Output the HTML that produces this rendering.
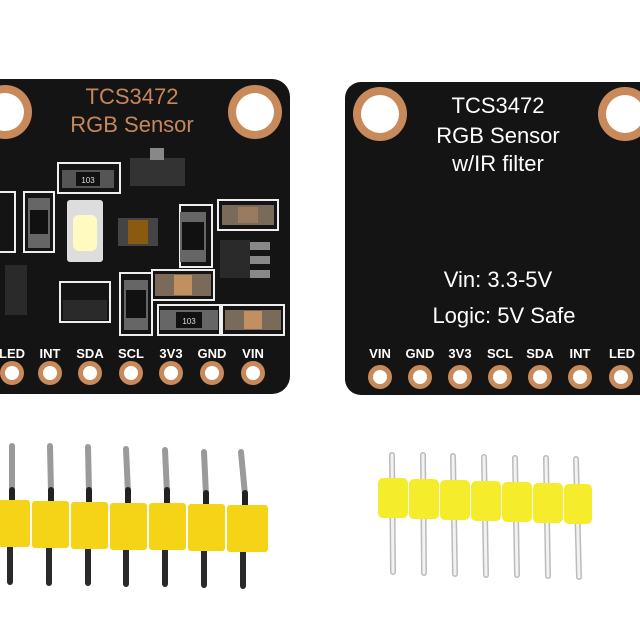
<!DOCTYPE html>
<html><head><style>
html,body{margin:0;padding:0;background:#fff;width:640px;height:640px;overflow:hidden}
svg{display:block}
text{font-family:"Liberation Sans",sans-serif}
.b{font-weight:bold}
</style></head><body>
<svg width="640" height="640" viewBox="0 0 640 640">
<rect width="640" height="640" fill="#fff"/>
<!-- Left board -->
<rect x="-20" y="79" width="310" height="315" rx="18" fill="#141414"/>
<circle cx="5" cy="112" r="27" fill="#c88a5a"/><circle cx="5" cy="112" r="19" fill="#fff"/>
<circle cx="255" cy="112" r="27" fill="#c88a5a"/><circle cx="255" cy="112" r="19" fill="#fff"/>
<text x="132" y="104" font-size="22" fill="#c8875a" text-anchor="middle">TCS3472</text>
<text x="132" y="132" font-size="22" fill="#c8875a" text-anchor="middle">RGB Sensor</text>
<g fill="none" stroke="#eee" stroke-width="2">
<rect x="58" y="163" width="62" height="30"/>
<rect x="24" y="192" width="30" height="60"/>
<rect x="-5" y="192" width="20" height="60"/>
<rect x="180" y="205" width="32" height="62"/>
<rect x="218" y="200" width="60" height="30"/>
<rect x="120" y="273" width="32" height="62"/>
<rect x="152" y="270" width="62" height="30"/>
<rect x="158" y="305" width="62" height="30"/>
<rect x="222" y="305" width="62" height="30"/>
<rect x="60" y="282" width="50" height="40"/>
</g>
<rect x="62" y="170" width="52" height="18" fill="#555"/><rect x="76" y="172" width="24" height="14" fill="#111"/>
<text x="88" y="183" font-size="8" fill="#ddd" text-anchor="middle">103</text>
<rect x="28" y="198" width="22" height="50" fill="#666"/><rect x="30" y="210" width="18" height="24" fill="#111"/>
<rect x="180" y="212" width="26" height="50" fill="#666"/><rect x="182" y="222" width="22" height="28" fill="#111"/>
<rect x="222" y="205" width="52" height="20" fill="#7a6a5a"/><rect x="238" y="207" width="20" height="16" fill="#9a7a60"/>
<rect x="130" y="158" width="55" height="28" fill="#333"/><rect x="150" y="148" width="14" height="12" fill="#888"/>
<rect x="67" y="200" width="36" height="62" rx="3" fill="#ddd"/><rect x="73" y="215" width="24" height="36" rx="6" fill="#fffbc0"/>
<rect x="118" y="218" width="40" height="28" fill="#444"/><rect x="128" y="220" width="20" height="24" fill="#8a5a10"/>
<rect x="220" y="240" width="30" height="38" fill="#2a2a2a"/><rect x="250" y="242" width="20" height="8" fill="#888"/><rect x="250" y="256" width="20" height="8" fill="#888"/><rect x="250" y="270" width="20" height="8" fill="#888"/>
<rect x="124" y="280" width="24" height="50" fill="#666"/><rect x="126" y="290" width="20" height="28" fill="#111"/>
<rect x="155" y="274" width="56" height="22" fill="#7a6a5a"/><rect x="174" y="275" width="18" height="20" fill="#c09060"/>
<rect x="160" y="310" width="58" height="20" fill="#666"/><rect x="176" y="312" width="26" height="16" fill="#111"/>
<text x="189" y="324" font-size="8" fill="#ddd" text-anchor="middle">103</text>
<rect x="225" y="310" width="56" height="20" fill="#7a6a5a"/><rect x="244" y="311" width="18" height="18" fill="#c09060"/>
<rect x="63" y="300" width="44" height="20" fill="#2a2a2a"/>
<rect x="5" y="265" width="22" height="50" fill="#2a2a2a"/>
<g font-size="13" fill="#fff" text-anchor="middle" class="b">
<text x="12" y="358">LED</text><text x="50" y="358">INT</text><text x="90" y="358">SDA</text><text x="131" y="358">SCL</text><text x="171" y="358">3V3</text><text x="212" y="358">GND</text><text x="253" y="358">VIN</text>
</g>
<g fill="#c88a5a">
<circle cx="12" cy="373" r="12"/><circle cx="50" cy="373" r="12"/><circle cx="90" cy="373" r="12"/><circle cx="131" cy="373" r="12"/><circle cx="171" cy="373" r="12"/><circle cx="212" cy="373" r="12"/><circle cx="253" cy="373" r="12"/>
</g>
<g fill="#fff">
<circle cx="12" cy="373" r="7"/><circle cx="50" cy="373" r="7"/><circle cx="90" cy="373" r="7"/><circle cx="131" cy="373" r="7"/><circle cx="171" cy="373" r="7"/><circle cx="212" cy="373" r="7"/><circle cx="253" cy="373" r="7"/>
</g>
<!-- Right board -->
<rect x="345" y="82" width="310" height="313" rx="16" fill="#141414"/>
<circle cx="380" cy="114" r="27" fill="#c88a5a"/><circle cx="380" cy="114" r="19" fill="#fff"/>
<circle cx="625" cy="114" r="27" fill="#c88a5a"/><circle cx="625" cy="114" r="19" fill="#fff"/>
<g fill="#fff" text-anchor="middle" font-size="22">
<text x="498" y="113">TCS3472</text>
<text x="498" y="143">RGB Sensor</text>
<text x="498" y="171">w/IR filter</text>
<text x="498" y="287">Vin: 3.3-5V</text>
<text x="504" y="323">Logic: 5V Safe</text>
</g>
<g font-size="13" fill="#fff" text-anchor="middle" class="b">
<text x="380" y="358">VIN</text><text x="420" y="358">GND</text><text x="460" y="358">3V3</text><text x="500" y="358">SCL</text><text x="540" y="358">SDA</text><text x="580" y="358">INT</text><text x="622" y="358">LED</text>
</g>
<g fill="#c88a5a">
<circle cx="380" cy="377" r="12"/><circle cx="420" cy="377" r="12"/><circle cx="460" cy="377" r="12"/><circle cx="500" cy="377" r="12"/><circle cx="540" cy="377" r="12"/><circle cx="580" cy="377" r="12"/><circle cx="621" cy="377" r="12"/>
</g>
<g fill="#fff">
<circle cx="380" cy="377" r="7"/><circle cx="420" cy="377" r="7"/><circle cx="460" cy="377" r="7"/><circle cx="500" cy="377" r="7"/><circle cx="540" cy="377" r="7"/><circle cx="580" cy="377" r="7"/><circle cx="621" cy="377" r="7"/>
</g>
<!-- Left header -->
<g stroke-width="6" stroke-linecap="round">
<g stroke="#9a9a9a"><line x1="12" y1="446" x2="12" y2="492"/><line x1="50" y1="446" x2="51" y2="492"/><line x1="88" y1="447" x2="89" y2="492"/><line x1="126" y1="449" x2="128" y2="493"/><line x1="165" y1="450" x2="167" y2="493"/><line x1="204" y1="452" x2="206" y2="495"/><line x1="241" y1="452" x2="245" y2="495"/></g>
<g stroke="#222"><line x1="12" y1="490" x2="12" y2="505"/><line x1="51" y1="490" x2="51" y2="505"/><line x1="89" y1="490" x2="89" y2="505"/><line x1="128" y1="490" x2="128" y2="505"/><line x1="167" y1="490" x2="167" y2="505"/><line x1="206" y1="493" x2="206" y2="506"/><line x1="245" y1="493" x2="245" y2="506"/></g>
<g stroke="#2a2a2a"><line x1="10" y1="545" x2="10" y2="582"/><line x1="49" y1="545" x2="49" y2="583"/><line x1="88" y1="545" x2="88" y2="583"/><line x1="126" y1="546" x2="126" y2="584"/><line x1="165" y1="547" x2="165" y2="584"/><line x1="204" y1="548" x2="204" y2="585"/><line x1="243" y1="550" x2="243" y2="586"/></g>
</g>
<g fill="#f5d418">
<rect x="-5" y="500" width="35" height="47" rx="3"/><rect x="32" y="501" width="37" height="47" rx="3"/><rect x="71" y="502" width="37" height="47" rx="3"/><rect x="110" y="503" width="37" height="47" rx="3"/><rect x="149" y="503" width="37" height="47" rx="3"/><rect x="188" y="504" width="37" height="47" rx="3"/><rect x="227" y="505" width="41" height="47" rx="3"/>
</g>
<!-- Right header -->
<g stroke="#bbb" stroke-width="6" stroke-linecap="round">
<line x1="392" y1="455" x2="393" y2="572"/><line x1="423" y1="455" x2="424" y2="573"/><line x1="453" y1="456" x2="455" y2="574"/><line x1="484" y1="457" x2="486" y2="575"/><line x1="515" y1="458" x2="517" y2="575"/><line x1="546" y1="458" x2="548" y2="576"/><line x1="576" y1="459" x2="579" y2="577"/>
</g>
<g stroke="#f2f2f2" stroke-width="3" stroke-linecap="round">
<line x1="392" y1="455" x2="393" y2="572"/><line x1="423" y1="455" x2="424" y2="573"/><line x1="453" y1="456" x2="455" y2="574"/><line x1="484" y1="457" x2="486" y2="575"/><line x1="515" y1="458" x2="517" y2="575"/><line x1="546" y1="458" x2="548" y2="576"/><line x1="576" y1="459" x2="579" y2="577"/>
</g>
<g fill="#f5ec2c">
<rect x="378" y="478" width="30" height="40" rx="5"/><rect x="409" y="479" width="30" height="40" rx="5"/><rect x="440" y="480" width="30" height="40" rx="5"/><rect x="471" y="481" width="30" height="40" rx="5"/><rect x="502" y="482" width="30" height="40" rx="5"/><rect x="533" y="483" width="30" height="40" rx="5"/><rect x="564" y="484" width="28" height="40" rx="5"/>
</g>
</svg>
</body></html>
